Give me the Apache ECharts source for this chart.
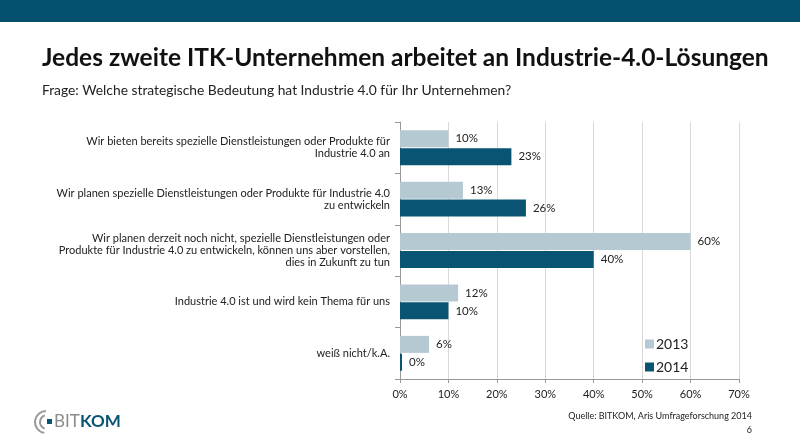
<!DOCTYPE html>
<html>
<head>
<meta charset="utf-8">
<script src="https://cdn.jsdelivr.net/npm/echarts@6/dist/echarts.min.js"></script>
<style>
  html, body { margin: 0; padding: 0; background: #fff; }
  #chart { width: 800px; height: 446px; }
</style>
</head>
<body>
<div id="chart"></div>
<script>
const categories = [
  'Wir bieten bereits spezielle Dienstleistungen oder Produkte für\nIndustrie 4.0 an',
  'Wir planen spezielle Dienstleistungen oder Produkte für Industrie 4.0\nzu entwickeln',
  'Wir planen derzeit noch nicht, spezielle Dienstleistungen oder\nProdukte für Industrie 4.0 zu entwickeln, können uns aber vorstellen,\ndies in Zukunft zu tun',
  'Industrie 4.0 ist und wird kein Thema für uns',
  'weiß nicht/k.A.'
];
const values2013 = [10, 13, 60, 12, 6];
const values2014 = [23, 26, 40, 10, 0];
const xTicks = [0, 10, 20, 30, 40, 50, 60, 70];

const FONT = 'Lato, "Open Sans", sans-serif';
const C2013 = '#b5c9d3';
const C2014 = '#0a5473';

const chart = echarts.init(document.getElementById('chart'));

const labelStyle = {
  show: true,
  position: 'right',
  distance: 7,
  formatter: '{c}%',
  fontFamily: FONT,
  fontSize: 11.5,
  color: '#222'
};

const option = {
  animation: false,
  textStyle: { fontFamily: FONT },
  title: [
    {
      text: 'Jedes zweite ITK-Unternehmen arbeitet an Industrie-4.0-Lösungen',
      left: 37,
      top: 41,
      textStyle: { fontFamily: FONT, fontSize: 24.5, fontWeight: 'bold', color: '#111' }
    },
    {
      text: 'Frage: Welche strategische Bedeutung hat Industrie 4.0 für Ihr Unternehmen?',
      left: 37,
      top: 79,
      textStyle: { fontFamily: FONT, fontSize: 13.8, fontWeight: 'normal', color: '#222' }
    }
  ],
  legend: {
    orient: 'vertical',
    left: 640,
    top: 332,
    itemWidth: 9,
    itemHeight: 9,
    itemGap: 9,
    icon: 'rect',
    textStyle: { fontFamily: FONT, fontSize: 14, color: '#222', padding: [0, 0, 0, -3] },
    data: ['2013', '2014']
  },
  grid: { left: 400, right: 61, top: 122, bottom: 67 },
  xAxis: {
    type: 'value',
    min: 0,
    max: 70,
    interval: 10,
    axisLine: { show: true, lineStyle: { color: '#999' } },
    axisTick: { show: true, length: 4, lineStyle: { color: '#999' } },
    axisLabel: {
      fontFamily: FONT,
      fontSize: 11,
      color: '#222',
      margin: 10,
      formatter: (v) => (xTicks.includes(v) ? v + '%' : '')
    },
    splitLine: { show: true, lineStyle: { color: '#d9d9d9' } }
  },
  yAxis: {
    type: 'category',
    inverse: true,
    data: categories,
    axisLine: { show: true, lineStyle: { color: '#999' } },
    axisTick: { show: true, length: 5, lineStyle: { color: '#999' } },
    axisLabel: {
      fontFamily: FONT,
      fontSize: 11,
      color: '#222',
      lineHeight: 12,
      margin: 10,
      align: 'right'
    }
  },
  series: [
    {
      name: '2013',
      type: 'bar',
      data: values2013,
      barWidth: 17,
      barGap: '5%',
      itemStyle: { color: C2013 },
      label: labelStyle
    },
    {
      name: '2014',
      type: 'bar',
      data: values2014,
      barWidth: 17,
      barGap: '5%',
      barMinHeight: 2,
      itemStyle: { color: C2014 },
      label: labelStyle
    }
  ],
  graphic: [
    { type: 'rect', left: 0, top: 0, shape: { width: 800, height: 22 }, style: { fill: '#03506f' } },
    {
      type: 'arc', shape: { cx: 46, cy: 422, r: 11, startAngle: Math.PI * 0.55, endAngle: Math.PI * 1.5 },
      style: { stroke: '#9a9a9a', lineWidth: 2, fill: null }
    },
    {
      type: 'arc', shape: { cx: 47, cy: 422, r: 7, startAngle: Math.PI * 0.6, endAngle: Math.PI * 1.4 },
      style: { stroke: '#9a9a9a', lineWidth: 2, fill: null }
    },
    { type: 'rect', shape: { x: 47, y: 419, width: 5, height: 5 }, style: { fill: '#0a5473' } },
    {
      type: 'text', left: 54, top: 413,
      style: { text: 'BIT', font: '17px Lato, sans-serif', fill: '#8c8c8c' }
    },
    {
      type: 'text', left: 80, top: 413,
      style: { text: 'KOM', font: 'bold 17px Lato, sans-serif', fill: '#0a5473' }
    },
    {
      type: 'text', right: 48, top: 412,
      style: { text: 'Quelle: BITKOM, Aris Umfrageforschung 2014', fontFamily: FONT, fontSize: 9, fill: '#222', textAlign: 'right' }
    },
    {
      type: 'text', right: 48, top: 426,
      style: { text: '6', fontFamily: FONT, fontSize: 9, fill: '#222' }
    }
  ]
};

chart.setOption(option);
</script>
</body>
</html>
